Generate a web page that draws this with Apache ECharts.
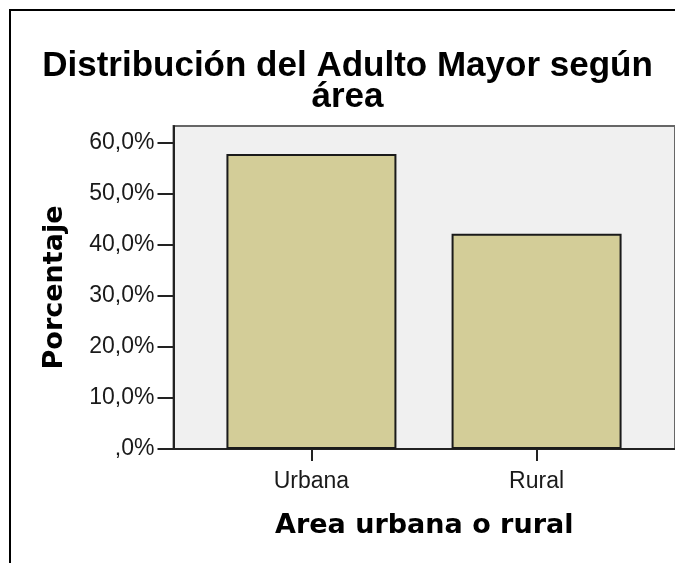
<!DOCTYPE html>
<html><head><meta charset="utf-8">
<script src="https://cdn.jsdelivr.net/npm/echarts@6/dist/echarts.min.js"></script>
<style>html,body{margin:0;padding:0;background:#fff}#c{width:675px;height:563px}</style>
</head><body><div id="c"></div>
<script>
const titleText = 'Distribución del Adulto Mayor según\nárea';
const categories = ['Urbana', 'Rural'];
const percentages = [57.8, 42.2];
const yTicks = [0, 10, 20, 30, 40, 50, 60];
const xAxisName = 'Area urbana o rural';
const yAxisName = 'Porcentaje';

const positions = categories.map((c, i) => i + 1);
const barData = positions.map((p, i) => [p, percentages[i]]);
function fmtPct(v) { return v === 0 ? ',0%' : v.toFixed(1).replace('.', ',') + '%'; }

const chart = echarts.init(document.getElementById('c'), null, {renderer: 'canvas'});
chart.setOption({
  animation: false,
  backgroundColor: '#fff',
  title: {
    text: titleText, left: 347.5, top: 51, padding: 0, textAlign: 'center',
    textStyle: {fontFamily: '"Liberation Sans", Arial', fontWeight: 'bold', fontSize: 35, lineHeight: 31, color: '#000'}
  },
  graphic: [{
    type: 'rect', silent: true, z: 100,
    shape: {x: 10, y: 10, width: 720, height: 620},
    style: {fill: 'none', stroke: '#000', lineWidth: 2}
  }],
  grid: {left: 173.5, top: 126, right: -1, bottom: 114, show: true, backgroundColor: '#f0f0f0', borderColor: '#666', borderWidth: 2},
  xAxis: {
    type: 'value', min: 0.3874, max: 2.6148, splitLine: {show: false},
    axisLine: {show: true, onZero: false, lineStyle: {color: '#222', width: 2}},
    axisTick: {show: true, customValues: positions, length: 12, lineStyle: {color: '#222', width: 2}},
    axisLabel: {customValues: positions, formatter: v => categories[Math.round(v) - 1] || '', margin: 21,
      fontFamily: '"Liberation Sans", Arial', fontSize: 23, color: '#1a1a1a'},
    name: xAxisName, nameLocation: 'middle', nameGap: 63,
    nameTextStyle: {fontFamily: '"DejaVu Sans"', fontWeight: 'bold', fontSize: 27, color: '#000'}
  },
  yAxis: {
    type: 'value', min: 0, max: 63.3, interval: 10, splitLine: {show: false},
    axisLine: {show: true, lineStyle: {color: '#222', width: 2}},
    axisTick: {show: true, customValues: yTicks, length: 16, lineStyle: {color: '#222', width: 2}},
    axisLabel: {customValues: yTicks, formatter: fmtPct, margin: 19,
      fontFamily: '"Liberation Sans", Arial', fontSize: 23, color: '#1a1a1a'},
    name: yAxisName, nameLocation: 'middle', nameGap: 105, nameRotate: 90,
    nameTextStyle: {fontFamily: '"DejaVu Sans"', fontWeight: 'bold', fontSize: 27, color: '#000'}
  },
  series: [{
    type: 'bar', data: barData, barWidth: 170,
    itemStyle: {color: '#d3cd98', borderColor: '#1a1a1a', borderWidth: 2}
  }]
});
</script>
</body></html>
